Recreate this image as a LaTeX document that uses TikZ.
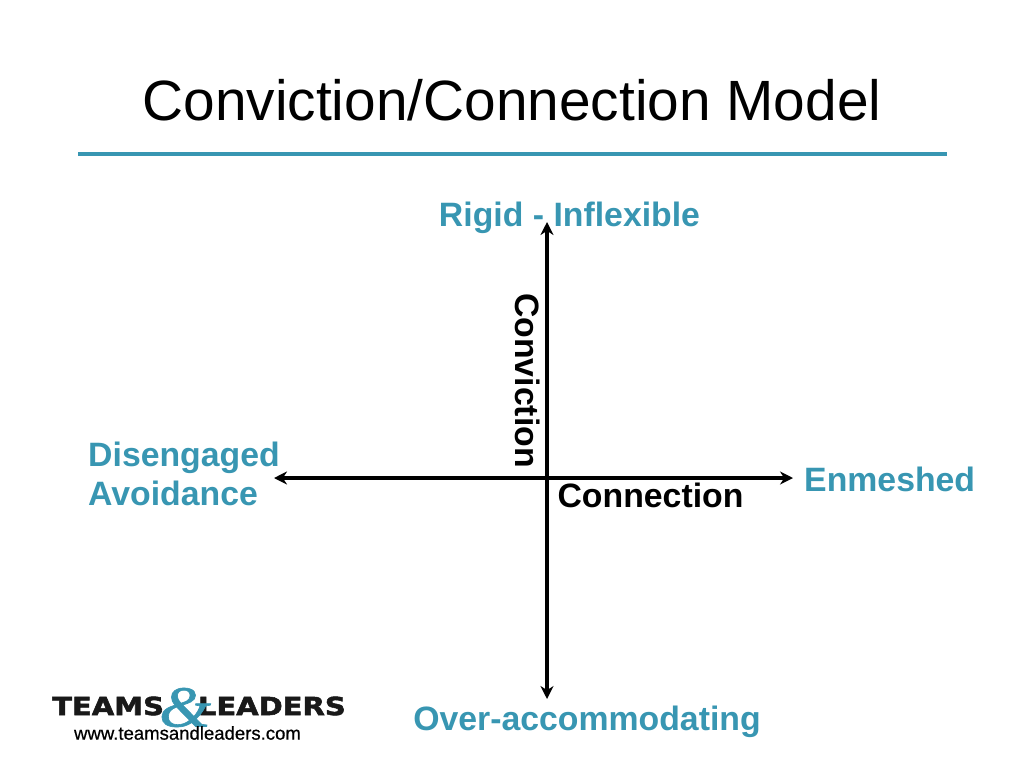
\documentclass[tikz,border=0pt]{standalone}
\usepackage{fontspec}
\setmainfont{Liberation Sans}
\newfontfamily\logofont[BoldFeatures={FakeBold=2}]{DejaVu Sans}
\newfontfamily\ampfont[ItalicFeatures={FakeBold=1}]{Liberation Serif}
\newfontfamily\webfont[FakeBold=0.6]{Liberation Sans}
\usetikzlibrary{arrows.meta}
\definecolor{tealbar}{RGB}{56,150,178}
\tikzset{
  axis/.style={line width=3.4pt, <->, >={Stealth[length=13pt,width=13pt]}},
  pole/.style={text=tealbar, font=\fontsize{33.8}{39}\selectfont\bfseries, inner sep=0pt},
  axlabel/.style={font=\fontsize{33.8}{39}\selectfont\bfseries, inner sep=0pt},
  logoword/.style={font=\fontsize{25}{25}\logofont\bfseries, inner sep=0pt, xscale=1.16}
}
\begin{document}
\begin{tikzpicture}[x=1pt,y=-1pt]
\useasboundingbox (0,0) rectangle (1024,768);
\node (title) [font=\fontsize{56.8}{64}\selectfont, inner sep=0pt] at (512,100) {Conviction/Connection Model};
\coordinate (ruleL) at (78,154);
\coordinate (ruleR) at (947,154);
\draw [tealbar, line width=3.6pt] (ruleL) -- (ruleR);
%----------------------------------
\node (top) [pole] at (569.5,218) {Rigid - Inflexible};
\node (bottom) [pole] at (587,722) {Over-accommodating};
\node (right) [pole, anchor=west] at (804,479) {Enmeshed};
\node (left) [pole, anchor=west, align=left] at (88,473.5) {Disengaged\\Avoidance};
%----------------------------------
\coordinate (axT) at (547,222);
\coordinate (axB) at (547,699);
\coordinate (axL) at (274,478);
\coordinate (axR) at (793,478);
\draw [axis] (axB) -- (axT);
\draw [axis] (axL) -- (axR);
%----------------------------------
\node (conv) [axlabel, rotate=-90] at (528,380.5) {Conviction};
\node (conn) [axlabel] at (650.5,495.5) {Connection};
%----------------------------------
\node (teams) [logoword, anchor=west, text=black!90] at (52,706) {TEAMS};
\node (leaders) [logoword, anchor=east, text=black!90] at (346,706) {LEADERS};
\node (amp) [font=\fontsize{58}{58}\ampfont\itshape, text=tealbar, inner sep=0pt, xscale=1.15] at (185,707.5) {\&};
\node (web) [font=\fontsize{18.55}{20}\webfont, inner sep=0pt] at (187.5,733) {www.teamsandleaders.com};
\end{tikzpicture}
\end{document}
